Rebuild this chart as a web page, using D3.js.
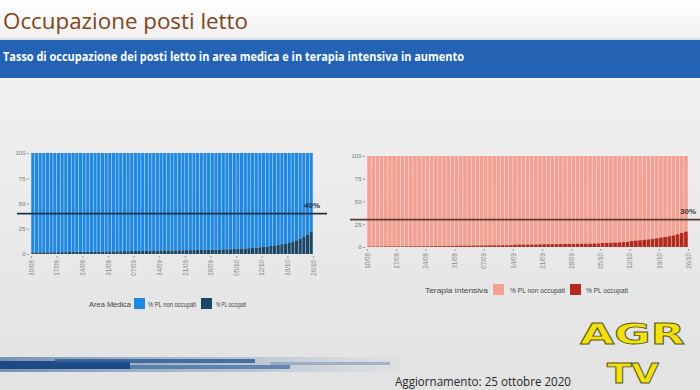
<!DOCTYPE html>
<html>
<head>
<meta charset="utf-8">
<script src="https://cdn.jsdelivr.net/npm/d3@7"></script>
<style>
html,body{margin:0;padding:0;background:#ececec;}
svg{display:block;}
</style>
</head>
<body>
<svg id="chart" width="700" height="390"></svg>
<script>
// ---- data ----
const startDate = "2020-08-10";
const endDate = "2020-10-26";
const tickLabels = ["10/08","17/08","24/08","31/08","07/09","14/09","21/09","28/09","05/10","12/10","19/10","26/10"];
// % posti letto occupati, area medica (10/08 .. 25/10)
const areaMedicaOccupati = [
  1.6,1.6,1.7,1.7,1.7,1.8,1.8,
  1.8,1.9,1.9,2.0,2.0,2.1,2.1,
  2.2,2.2,2.3,2.3,2.4,2.4,2.5,
  2.6,2.6,2.7,2.7,2.8,2.8,2.9,
  3.0,3.0,3.1,3.1,3.2,3.2,3.3,
  3.4,3.4,3.5,3.5,3.6,3.6,3.7,
  3.8,3.8,3.9,3.9,4.0,4.1,4.1,
  4.2,4.3,4.4,4.5,4.6,4.7,4.9,
  5.1,5.3,5.5,5.7,6.0,6.3,6.6,
  7.0,7.4,7.9,8.4,9.0,9.7,10.4,
  11.3,12.3,13.5,15.0,16.8,19.0,22.0
];
// % posti letto occupati, terapia intensiva (10/08 .. 25/10)
const terapiaIntensivaOccupati = [
  0.6,0.6,0.6,0.6,0.7,0.7,0.7,
  0.7,0.7,0.8,0.8,0.8,0.8,0.9,
  0.9,0.9,1.0,1.0,1.0,1.1,1.1,
  1.5,1.5,1.5,1.6,1.6,1.6,1.7,
  1.8,1.8,1.9,1.9,2.0,2.0,2.0,
  2.6,2.6,2.7,2.7,2.7,2.8,2.8,
  3.1,3.1,3.2,3.2,3.2,3.3,3.3,
  3.4,3.5,3.5,3.6,3.7,3.8,3.9,
  4.4,4.5,4.7,4.9,5.1,5.4,5.7,
  6.6,7.0,7.4,7.9,8.4,9.0,9.6,
  10.3,11.0,11.8,12.8,14.0,15.4,17.0
];
const yTicks = [0,25,50,75,100];
const thresholds = {areaMedica: 40, terapiaIntensiva: 30};
const legendLabels = ["% PL non occupati","% PL occupati"];

// ---- drawing ----
const svg = d3.select("#chart");
const parse = d3.timeParse("%Y-%m-%d");
const d0 = parse(startDate), d1 = parse(endDate);
const days = d3.timeDay.range(d0, d1);

const defs = svg.append("defs");
const bg = defs.append("linearGradient").attr("id","bg").attr("x1",0).attr("x2",0).attr("y1",0).attr("y2",1);
bg.append("stop").attr("offset","0%").attr("stop-color","#f4f4f4");
bg.append("stop").attr("offset","100%").attr("stop-color","#e2e2e2");
const hdr = defs.append("linearGradient").attr("id","hdr").attr("x1",0).attr("x2",0).attr("y1",0).attr("y2",1);
hdr.append("stop").attr("offset","0%").attr("stop-color","#ffffff");
hdr.append("stop").attr("offset","100%").attr("stop-color","#f0f0f0");
const deco = defs.append("linearGradient").attr("id","deco").attr("x1",0).attr("x2",1).attr("y1",0).attr("y2",0);
deco.append("stop").attr("offset","0%").attr("stop-color","#1f4f8a").attr("stop-opacity",1);
deco.append("stop").attr("offset","60%").attr("stop-color","#6f8fb5").attr("stop-opacity",0.7);
deco.append("stop").attr("offset","100%").attr("stop-color","#c8d0da").attr("stop-opacity",0.3);

svg.append("rect").attr("width",700).attr("height",390).attr("fill","url(#bg)");
svg.append("rect").attr("width",700).attr("height",39).attr("fill","url(#hdr)");
svg.append("line").attr("x1",0).attr("x2",700).attr("y1",39).attr("y2",39).attr("stroke","#c9c9c9");

svg.append("text").attr("x",3).attr("y",29)
  .attr("font-family","Open Sans, sans-serif").attr("font-size",22)
  .attr("fill","#7f4420").attr("textLength",245).attr("lengthAdjust","spacingAndGlyphs")
  .text("Occupazione posti letto");

svg.append("rect").attr("x",0).attr("y",40).attr("width",700).attr("height",38).attr("fill","#2463b3");
svg.append("text").attr("x",3).attr("y",61)
  .attr("font-family","Open Sans, sans-serif").attr("font-size",11.5).attr("font-weight","bold")
  .attr("fill","#ffffff").attr("textLength",461).attr("lengthAdjust","spacingAndGlyphs")
  .text("Tasso di occupazione dei posti letto in area medica e in terapia intensiva in aumento");

function drawPanel(cfg){
  const g = svg.append("g");
  const x = d3.scaleTime().domain([d0,d1]).range([cfg.x0,cfg.x1]);
  const y = d3.scaleLinear().domain([0,100]).range([cfg.y0,cfg.y1]);
  const data = days.map((d,i)=>({date:d, occ:cfg.values[i]}));
  const gap = 0.5;
  g.append("g").selectAll("rect").data(data).join("rect")
    .attr("x", d=>x(d.date)+gap/2)
    .attr("width", d=>x(d3.timeDay.offset(d.date,1))-x(d.date)-gap)
    .attr("y", y(100))
    .attr("height", d=>y(d.occ)-y(100))
    .attr("fill", cfg.light);
  g.append("g").selectAll("rect").data(data).join("rect")
    .attr("x", d=>x(d.date)+gap/2)
    .attr("width", d=>x(d3.timeDay.offset(d.date,1))-x(d.date)-gap)
    .attr("y", d=>y(d.occ))
    .attr("height", d=>y(0)-y(d.occ))
    .attr("fill", cfg.dark);
  // y axis
  const ya = d3.axisLeft(y).tickValues(yTicks).tickSize(2).tickPadding(1.5);
  const yg = g.append("g").attr("transform",`translate(${cfg.x0-2},0)`).call(ya);
  yg.select(".domain").remove();
  yg.selectAll("text").attr("font-family","Liberation Sans, sans-serif").attr("font-size",6).attr("fill","#777");
  yg.selectAll("line").attr("stroke","#999");
  // x axis
  const tickDates = tickLabels.map(t=>{const [dd,mm]=t.split("/"); return new Date(2020,+mm-1,+dd);});
  const xa = d3.axisBottom(x).tickValues(tickDates).tickFormat((d,i)=>tickLabels[i]).tickSize(2).tickPadding(2);
  const xg = g.append("g").attr("transform",`translate(0,${cfg.y0+2})`).call(xa);
  xg.select(".domain").remove();
  xg.selectAll("line").attr("stroke","#999");
  xg.selectAll("text").attr("font-family","Liberation Sans, sans-serif").attr("font-size",6.3).attr("fill","#8a8a8a")
    .attr("text-anchor","end").attr("dy","0.35em")
    .attr("transform","translate(0,4) rotate(-90)").attr("x",0).attr("y",0);
  // threshold line
  g.append("line").attr("x1",cfg.lx0).attr("x2",cfg.lx1)
    .attr("y1",y(cfg.threshold)).attr("y2",y(cfg.threshold))
    .attr("stroke",cfg.lineColor).attr("stroke-width",1.8);
  g.append("text").attr("x",cfg.labelX).attr("y",y(cfg.threshold)-6)
    .attr("text-anchor","middle").attr("font-family","Liberation Sans, sans-serif")
    .attr("font-size",8).attr("font-weight","bold").attr("fill",cfg.labelColor)
    .text(cfg.threshold+"%");
  // legend
  const lg = g.append("g").attr("font-family","Liberation Sans Narrow, Liberation Sans, sans-serif").attr("fill","#444");
  lg.append("text").attr("x",cfg.leg.title[0]).attr("y",cfg.leg.y).attr("font-size",8)
    .attr("textLength",cfg.leg.title[1]).attr("lengthAdjust","spacingAndGlyphs").text(cfg.name);
  lg.append("rect").attr("x",cfg.leg.s1).attr("y",cfg.leg.y-9).attr("width",11).attr("height",11).attr("fill",cfg.light);
  lg.append("text").attr("x",cfg.leg.t1[0]).attr("y",cfg.leg.y).attr("font-size",6.5)
    .attr("textLength",cfg.leg.t1[1]).attr("lengthAdjust","spacingAndGlyphs").text(legendLabels[0]);
  lg.append("rect").attr("x",cfg.leg.s2).attr("y",cfg.leg.y-9).attr("width",11).attr("height",11).attr("fill",cfg.dark);
  lg.append("text").attr("x",cfg.leg.t2[0]).attr("y",cfg.leg.y).attr("font-size",6.5)
    .attr("textLength",cfg.leg.t2[1]).attr("lengthAdjust","spacingAndGlyphs").text(legendLabels[1]);
}

drawPanel({
  name:"Area Medica", values:areaMedicaOccupati, threshold:thresholds.areaMedica,
  x0:31, x1:313, y0:254, y1:153,
  light:"#1f88e3", dark:"#1b4766",
  lx0:17, lx1:327, lineColor:"#1d3448", labelX:312, labelColor:"#1d3448",
  leg:{y:307, title:[89,42], s1:134, t1:[148,48], s2:201, t2:[216,30]}
});
drawPanel({
  name:"Terapia intensiva", values:terapiaIntensivaOccupati, threshold:thresholds.terapiaIntensiva,
  x0:367, x1:688, y0:247, y1:156,
  light:"#f3a193", dark:"#b32a1d",
  lx0:350, lx1:700, lineColor:"#5e3c34", labelX:688, labelColor:"#4a3430",
  leg:{y:293, title:[425,63], s1:493, t1:[510,55], s2:570, t2:[586,42]}
});

// footer decoration
const dg = svg.append("g");
dg.append("rect").attr("x",0).attr("y",357).attr("width",400).attr("height",15).attr("fill","url(#deco)").attr("opacity",0.55);
dg.append("rect").attr("x",0).attr("y",361).attr("width",130).attr("height",8).attr("fill","#1c4a85");
dg.append("rect").attr("x",55).attr("y",359).attr("width",200).attr("height",4).attr("fill","#2a5a96").attr("opacity",0.8);
dg.append("rect").attr("x",130).attr("y",365).attr("width",160).attr("height",4).attr("fill","#3a6aa3").attr("opacity",0.7);
dg.append("rect").attr("x",270).attr("y",362).attr("width",120).attr("height",3).attr("fill","#7d95b5").attr("opacity",0.6);
dg.append("rect").attr("x",0).attr("y",374).attr("width",700).attr("height",16).attr("fill","#e4e4e4").attr("opacity",0.5);

svg.append("text").attr("x",395).attr("y",386)
  .attr("font-family","Open Sans, sans-serif").attr("font-size",12.5).attr("fill","#2a2a2a")
  .attr("textLength",176).attr("lengthAdjust","spacingAndGlyphs")
  .text("Aggiornamento: 25 ottobre 2020");

// logo
const logo = svg.append("g").attr("font-family","DejaVu Sans, sans-serif").attr("font-weight","bold")
  .attr("fill","#f2e10f").attr("stroke","#5a5a20").attr("stroke-width",0.8);
logo.append("text").attr("x",580).attr("y",344).attr("font-size",29).attr("textLength",105)
  .attr("lengthAdjust","spacingAndGlyphs").text("AGR");
logo.append("text").attr("x",607).attr("y",383).attr("font-size",27).attr("textLength",52)
  .attr("lengthAdjust","spacingAndGlyphs").text("TV");
</script>
</body>
</html>
